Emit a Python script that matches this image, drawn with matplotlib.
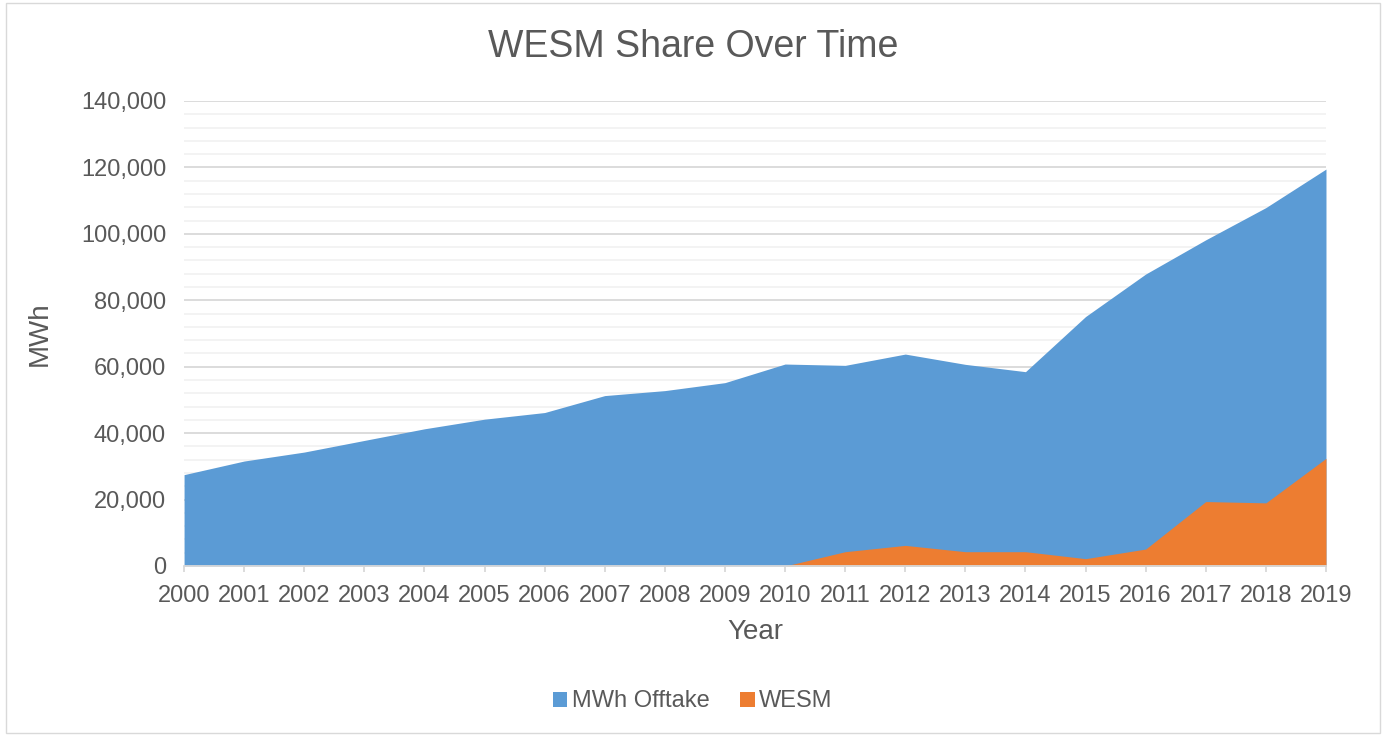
import matplotlib.pyplot as plt
from matplotlib.patches import Rectangle
from matplotlib.ticker import FuncFormatter, MultipleLocator

plt.rcParams['font.family'] = ['Liberation Sans', 'DejaVu Sans']

years = list(range(2000, 2020))
offtake = [27500, 31600, 34300, 37800, 41300, 44200, 46200, 51300, 52800, 55200,
           60800, 60400, 63800, 60700, 58500, 75100, 87900, 98200, 107900, 119500]
wesm = [0, 0, 0, 0, 0, 0, 0, 0, 0, 0,
        0, 4300, 6200, 4300, 4300, 2200, 5100, 19400, 19000, 32400]

blue = '#5B9BD5'
orange = '#ED7D31'
txt = '#595959'

fig = plt.figure(figsize=(13.86, 7.36), dpi=100)
ax = fig.add_axes([0.1328, 0.231, 0.8239, 0.6318])

ax.fill_between(years, offtake, 0, color=blue, lw=0, label='MWh Offtake', zorder=2)
ax.fill_between(years, wesm, 0, color=orange, lw=0, label='WESM', zorder=3)

ax.set_xlim(2000, 2019)
ax.set_ylim(0, 140000)
ax.yaxis.set_major_locator(MultipleLocator(20000))
ax.yaxis.set_minor_locator(MultipleLocator(4000))
ax.yaxis.set_major_formatter(FuncFormatter(lambda v, p: f'{int(v):,}'))
ax.set_xticks(years)
ax.grid(True, which='major', axis='y', color='#D9D9D9', lw=1.3, zorder=0)
ax.grid(True, which='minor', axis='y', color='#F2F2F2', lw=1.3, zorder=0)
ax.set_axisbelow(True)

for s in ['top', 'right', 'left']:
    ax.spines[s].set_visible(False)
ax.spines['bottom'].set_color('#D9D9D9')
ax.spines['bottom'].set_linewidth(1.3)
ax.spines['bottom'].set_zorder(4)

ax.tick_params(axis='y', which='both', length=0, labelsize=17, labelcolor=txt, pad=13)
ax.tick_params(axis='x', length=4.5, width=1.3, color='#D9D9D9', labelsize=17, labelcolor=txt, pad=9)

ax.set_xlabel('Year', fontsize=20, color=txt, labelpad=9)
ax.set_ylabel('MWh', fontsize=20, color=txt, labelpad=20)
fig.text(0.5, 0.936, 'WESM Share Over Time', ha='center', va='center', fontsize=27, color=txt)

leg = fig.legend(loc='center', bbox_to_anchor=(0.5, 0.047), ncol=2, frameon=False,
                 fontsize=17, handlelength=0.6, handleheight=0.6, handletextpad=0.2,
                 columnspacing=1.3, labelcolor=txt)

fig.patches.append(Rectangle((0.004, 0.004), 0.992, 0.992, transform=fig.transFigure,
                             fill=False, edgecolor='#D9D9D9', lw=1))

fig.savefig('out.png', dpi=100)
